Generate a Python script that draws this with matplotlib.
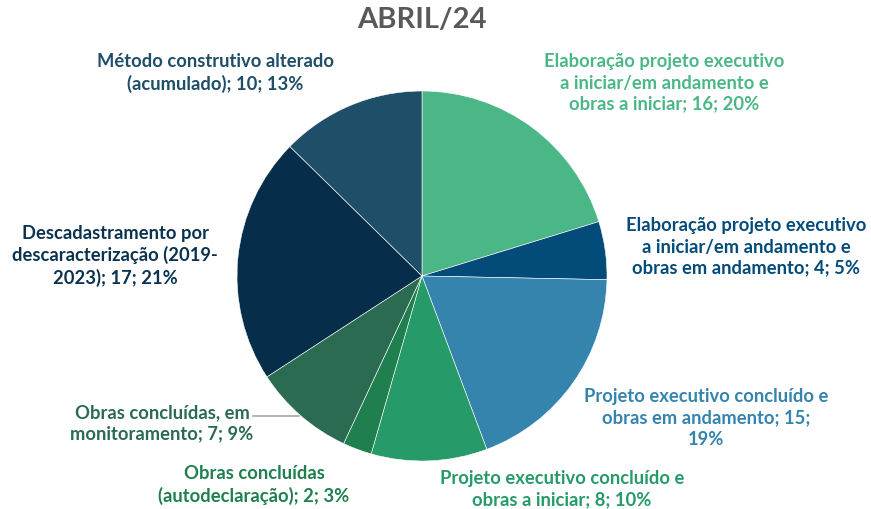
import matplotlib.pyplot as plt

# dados do gráfico
categorias = [
    "Elaboração projeto executivo a iniciar/em andamento e obras a iniciar",
    "Elaboração projeto executivo a iniciar/em andamento e obras em andamento",
    "Projeto executivo concluído e obras em andamento",
    "Projeto executivo concluído e obras a iniciar",
    "Obras concluídas (autodeclaração)",
    "Obras concluídas, em monitoramento",
    "Descadastramento por descaracterização (2019-2023)",
    "Método construtivo alterado (acumulado)",
]
valores = [16, 4, 15, 8, 2, 7, 17, 10]
rotulos = [
    "Elaboração projeto executivo\na iniciar/em andamento e\nobras a iniciar; 16; 20%",
    "Elaboração projeto executivo\na iniciar/em andamento e\nobras em andamento; 4; 5%",
    "Projeto executivo concluído e\nobras em andamento; 15;\n19%",
    "Projeto executivo concluído e\nobras a iniciar; 8; 10%",
    "Obras concluídas\n(autodeclaração); 2; 3%",
    "Obras concluídas, em\nmonitoramento; 7; 9%",
    "Descadastramento por\ndescaracterização (2019-\n2023); 17; 21%",
    "Método construtivo alterado\n(acumulado); 10; 13%",
]
cores = ["#4bb787", "#034b79", "#3484ae", "#279a69", "#1f7f4f",
         "#2a6b51", "#062e4a", "#1f4e69"]
cores_texto = ["#4bb787", "#034b79", "#3484ae", "#279a69", "#1f7f4f",
               "#2a6b51", "#0b3350", "#1f4e69"]

W, H = 871, 510
fig = plt.figure(figsize=(W / 100, H / 100), dpi=100)

# posição da pizza (centro e raio em pixels)
cx, cy, r = 422, 277, 185
ax = fig.add_axes([(cx - r) / W, (H - cy - r) / H, 2 * r / W, 2 * r / H])
ax.pie(valores, colors=cores, startangle=90, counterclock=False,
       wedgeprops=dict(edgecolor="white", linewidth=0.4))
ax.set_xlim(-1, 1)
ax.set_ylim(-1, 1)
ax.set_aspect("equal")

fig.text(cx / W, 1 - 20 / H, "ABRIL/24", ha="center", va="center",
         fontsize=21, fontweight="bold", color="#595959", family="Lato")

# posição dos rótulos em pixels
pos_rotulos = [(664, 83), (746, 247), (706, 418), (562, 489),
               (254, 485), (162, 423), (115, 256), (215, 73)]
for txt, (x, y), c in zip(rotulos, pos_rotulos, cores_texto):
    fig.text(x / W, 1 - y / H, txt, ha="center", va="center",
             fontsize=13.2, fontweight="bold", color=c, family="Lato",
             linespacing=1.3, multialignment="center")

# linha de chamada
fig.add_artist(plt.Line2D([253 / W, 299 / W], [1 - 417 / H, 1 - 417 / H],
                          color="#a6a6a6", linewidth=1.2))

fig.savefig("out.png", dpi=100)
